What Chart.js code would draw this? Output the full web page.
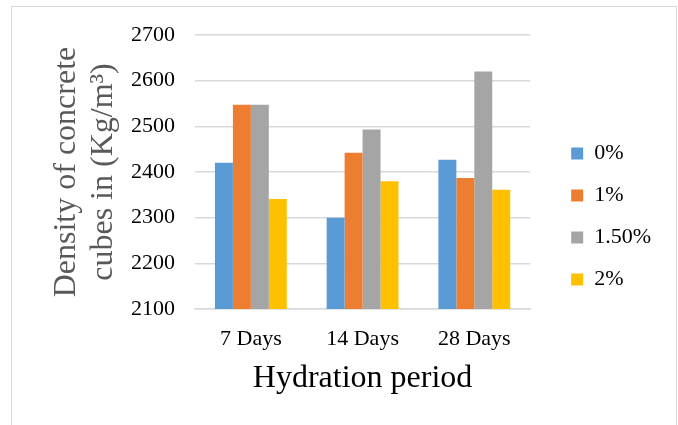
<!DOCTYPE html>
<html>
<head>
<meta charset="utf-8">
<script src="https://cdn.jsdelivr.net/npm/chart.js@4/dist/chart.umd.min.js"></script>
<style>
  html, body { margin: 0; padding: 0; background: #fff; }
  #wrap { position: relative; width: 678px; height: 425px; overflow: hidden; }
  #frame { position: absolute; left: 11px; top: 6px; width: 664px; height: 440px; border: 1px solid #d9d9d9; pointer-events: none; }
  canvas { position: absolute; left: 0; top: 0; }
</style>
</head>
<body>
<div id="wrap">
  <canvas id="grafico" width="678" height="425"></canvas>
  <div id="frame"></div>
</div>
<script>
// Dados
const categorias = ["7 Days", "14 Days", "28 Days"];
const series = ["0%", "1%", "1.50%", "2%"];
const valores0 = [2420, 2300, 2427];
const valores1 = [2547, 2442, 2387];
const valores150 = [2547, 2493, 2620];
const valores2 = [2341, 2380, 2361];
const cores = ["#5B9BD5", "#ED7D31", "#A5A5A5", "#FFC000"];
const yMin = 2100, yMax = 2700, yPasso = 100;

const fonte = "'Liberation Serif', 'Times New Roman', serif";

const ctx = document.getElementById("grafico").getContext("2d");
new Chart(ctx, {
  type: "bar",
  data: {
    labels: categorias,
    datasets: [valores0, valores1, valores150, valores2].map((dados, i) => ({
      label: series[i],
      data: dados,
      backgroundColor: cores[i],
      borderWidth: 0,
      categoryPercentage: 0.643,
      barPercentage: 1,
    })),
  },
  options: {
    responsive: false,
    animation: false,
    layout: { padding: { top: 35, bottom: 27, left: 0, right: 17 } },
    plugins: {
      legend: {
        display: true,
        position: "right",
        labels: {
          boxWidth: 12,
          boxHeight: 12,
          padding: 20,
          color: "#000",
          font: { family: fonte, size: 22 },
        },
      },
      tooltip: { enabled: false },
    },
    scales: {
      x: {
        grid: { display: false },
        border: { display: true, color: "#d9d9d9", width: 1.5 },
        ticks: { color: "#000", padding: 9, font: { family: fonte, size: 22 } },
        title: {
          display: true,
          text: "Hydration period",
          color: "#000",
          padding: { top: 7, bottom: 0 },
          font: { family: fonte, size: 32 },
        },
        afterFit: (s) => { s.height = 89; },
      },
      y: {
        min: yMin,
        max: yMax,
        grid: { color: "#d9d9d9", lineWidth: 1.5, drawTicks: false },
        border: { display: false },
        ticks: {
          stepSize: yPasso,
          color: "#000",
          padding: 20,
          font: { family: fonte, size: 22 },
          callback: (v) => String(v),
        },
        title: {
          display: true,
          text: ["Density of concrete", "cubes in (Kg/m³)"],
          color: "#595959",
          padding: { top: 48, bottom: 0 },
          font: { family: fonte, size: 32, lineHeight: 1.15 },
        },
        afterFit: (s) => { s.width = 195; },
      },
      // espaço entre a área do gráfico e a legenda
      espaco: {
        type: "linear",
        position: "right",
        grid: { display: false },
        border: { display: false },
        ticks: { display: false },
        afterFit: (s) => { s.width = 21; },
      },
    },
  },
});
</script>
</body>
</html>
